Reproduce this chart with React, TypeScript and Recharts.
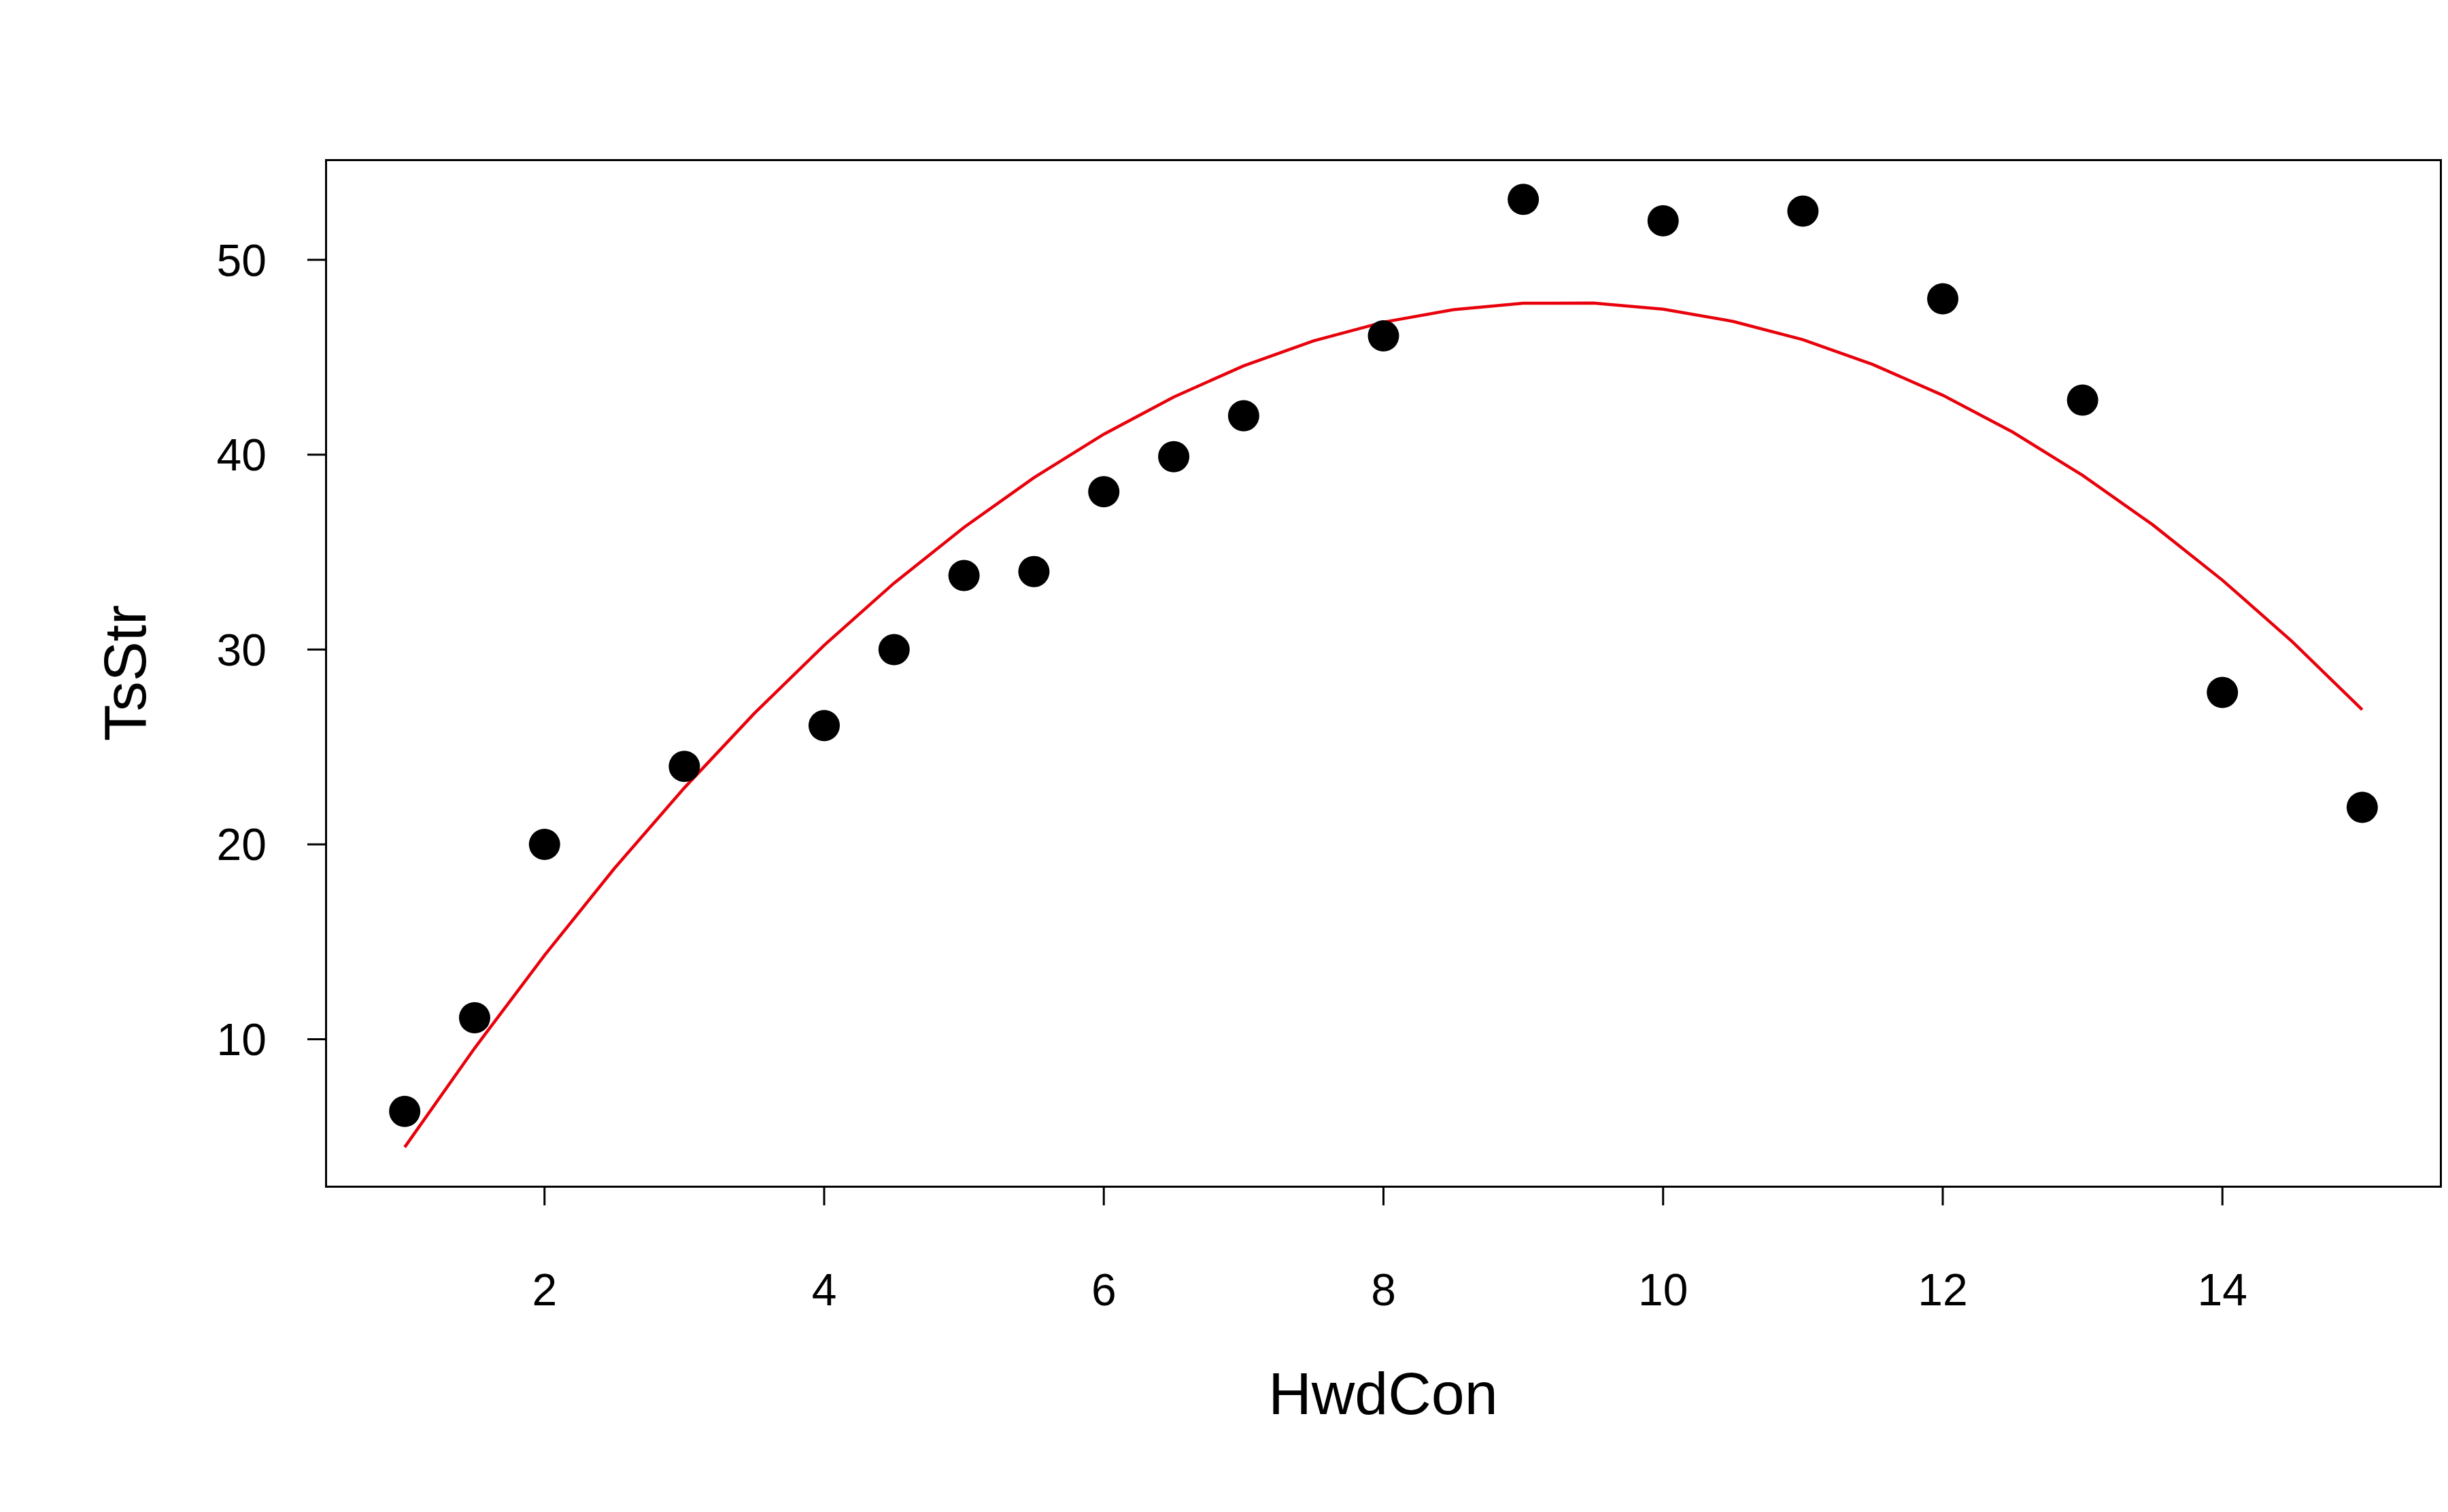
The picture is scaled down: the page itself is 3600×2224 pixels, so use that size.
import { ScatterChart, Scatter, XAxis, YAxis } from 'recharts'

const hwdCon = [1, 1.5, 2, 3, 4, 4.5, 5, 5.5, 6, 6.5, 7, 8, 9, 10, 11, 12, 13, 14, 15]
const tsStr = [6.3, 11.1, 20.0, 24.0, 26.1, 30.0, 33.8, 34.0, 38.1, 39.9, 42.0, 46.1, 53.1, 52.0, 52.5, 48.0, 42.8, 27.8, 21.9]

// fitted quadratic, read at half-unit steps
const fitX = [1, 1.5, 2, 2.5, 3, 3.5, 4, 4.5, 5, 5.5, 6, 6.5, 7, 7.5, 8, 8.5, 9, 9.5, 10, 10.5, 11, 11.5, 12, 12.5, 13, 13.5, 14, 14.5, 15]
const fitY = [4.46, 9.54, 14.31, 18.77, 22.90, 26.72, 30.22, 33.41, 36.27, 38.82, 41.05, 42.96, 44.56, 45.84, 46.80, 47.44, 47.77, 47.78, 47.47, 46.84, 45.90, 44.63, 43.05, 41.16, 38.94, 36.41, 33.56, 30.40, 26.91]

const xTicks = [2, 4, 6, 8, 10, 12, 14]
const yTicks = [10, 20, 30, 40, 50]

const points = hwdCon.map((x, i) => ({ x, y: tsStr[i] }))
const fit = fitX.map((x, i) => ({ x, y: fitY[i] }))

const font = 'Liberation Sans, Arial, sans-serif'
const tick = { fontSize: 66, fill: '#000', fontFamily: font }

const App = () => (
  <div style={{ position: 'absolute', left: 0, top: 0, width: 3600, height: 2224, background: '#fff' }}>
    <ScatterChart width={3600} height={2224} margin={{ top: 236, right: 11, left: 280, bottom: 279 }}>
      <XAxis
        type="number"
        dataKey="x"
        domain={[0.44, 15.56]}
        ticks={xTicks}
        height={200}
        axisLine={false}
        tickSize={28}
        tickMargin={100}
        tickLine={{ stroke: '#000', strokeWidth: 3 }}
        tick={tick}
      />
      <YAxis
        type="number"
        dataKey="y"
        domain={[2.45, 55.1]}
        ticks={yTicks}
        width={200}
        axisLine={false}
        tickSize={28}
        tickMargin={60}
        tickLine={{ stroke: '#000', strokeWidth: 3 }}
        tick={tick}
      />
      <Scatter
        data={fit}
        line={{ stroke: '#e8000b', strokeWidth: 4.5 }}
        lineType="joint"
        shape={() => <g />}
        isAnimationActive={false}
      />
      <Scatter data={points} fill="#000" shape={(p: any) => <circle cx={p.cx} cy={p.cy} r={23} fill="#000" />} isAnimationActive={false} />
    </ScatterChart>
    <div style={{ position: 'absolute', left: 478, top: 234, width: 3107, height: 1507, border: '3px solid #000' }} />
    <div style={{ position: 'absolute', left: 2034, top: 2050, transform: 'translate(-50%, -50%)', fontFamily: font, fontSize: 88, lineHeight: '100px', whiteSpace: 'nowrap' }}>
      HwdCon
    </div>
    <div style={{ position: 'absolute', left: 184, top: 990, transform: 'translate(-50%, -50%) rotate(-90deg)', fontFamily: font, fontSize: 88, lineHeight: '100px', whiteSpace: 'nowrap' }}>
      TsStr
    </div>
  </div>
)

export default App
